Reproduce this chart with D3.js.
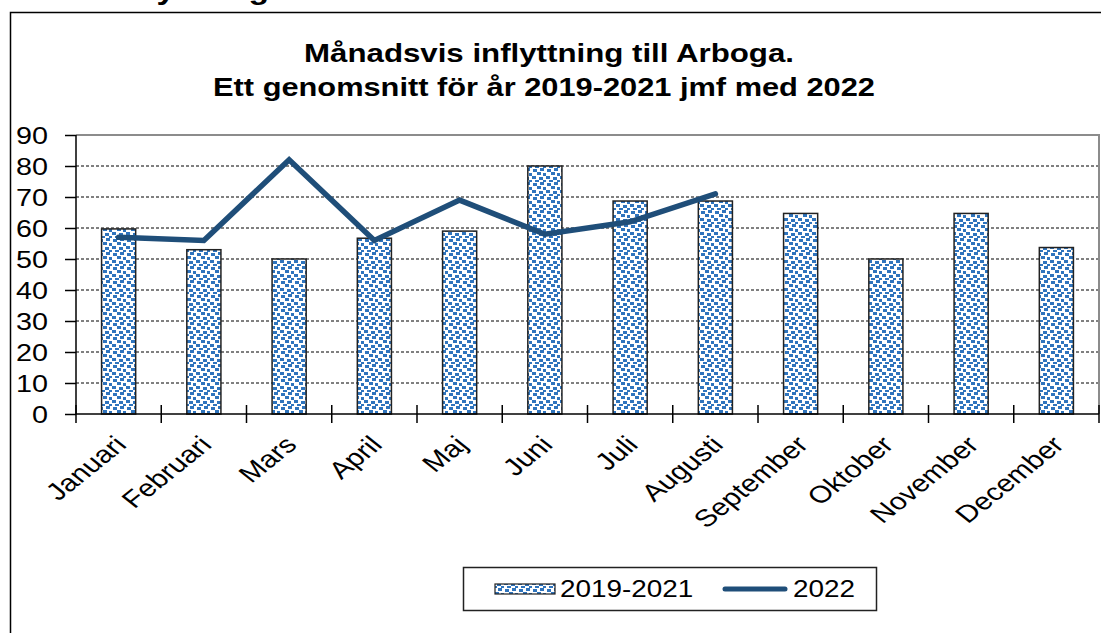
<!DOCTYPE html>
<html>
<head>
<meta charset="utf-8">
<script src="https://cdn.jsdelivr.net/npm/d3@7"></script>
<style>
  body { margin: 0; background: #fff; }
  svg { display: block; font-family: "Liberation Sans", Arial, sans-serif; }
</style>
</head>
<body>
<svg id="chart" width="1101" height="633"></svg>
<script>
const MONTHS = ["Januari", "Februari", "Mars", "April", "Maj", "Juni",
                "Juli", "Augusti", "September", "Oktober", "November", "December"];
const AVG_2019_2021 = [59.7, 53, 50, 56.7, 59, 80, 68.7, 68.7, 64.7, 50, 64.7, 53.7];
const VALUES_2022 = [57, 56, 82, 56, 69, 58, 62, 71];
const Y_TICKS = [0, 10, 20, 30, 40, 50, 60, 70, 80, 90];
const SERIES_NAMES = ["2019-2021", "2022"];
const TITLE_LINES = ["Månadsvis inflyttning till  Arboga.",
                     "Ett genomsnitt för år 2019-2021 jmf med 2022"];

const WIDTH = 1101, HEIGHT = 633;
const PLOT_LEFT = 76, PLOT_RIGHT = 1099, PLOT_TOP = 135, PLOT_BOTTOM = 414;
const STRETCH = 1.25;   // reference text is widened horizontally
const BAR_COLOUR = "#2f74bd";
const LINE_COLOUR = "#1f4e79";

const svg = d3.select("#chart");

const x = d3.scaleBand()
    .domain(MONTHS)
    .range([PLOT_LEFT, PLOT_RIGHT]);
const y = d3.scaleLinear()
    .domain([0, 90])
    .range([PLOT_BOTTOM, PLOT_TOP]);

// confetti fill for the bars
const defs = svg.append("defs");
const pat = defs.append("pattern")
    .attr("id", "confetti")
    .attr("patternUnits", "userSpaceOnUse")
    .attr("width", 14)
    .attr("height", 14);
pat.append("rect").attr("width", 14).attr("height", 14).attr("fill", "#fff");
[[1, 1], [8, 0], [5, 4], [11, 5], [0, 8], [7, 9], [3, 12], [11, 12]].forEach(p =>
    pat.append("rect")
        .attr("x", p[0]).attr("y", p[1])
        .attr("width", 4).attr("height", 3)
        .attr("fill", BAR_COLOUR)
);

// outer frame (only left and top edges visible)
svg.append("path")
    .attr("d", `M10.5,${HEIGHT} V12.5 H${WIDTH}`)
    .attr("fill", "none")
    .attr("stroke", "#000")
    .attr("stroke-width", 1.5);

// heading above the frame, cut off by the top edge as in the reference
svg.append("text")
    .attr("transform", `translate(106,-1) scale(${STRETCH},1)`)
    .attr("font-size", 27)
    .attr("font-weight", "bold")
    .text("Inflyttning");

// title
TITLE_LINES.forEach((t, i) =>
    svg.append("text")
        .attr("transform", `translate(${i === 0 ? 549 : 544},${i === 0 ? 62 : 96}) scale(${i === 0 ? STRETCH : STRETCH * 0.985},1)`)
        .attr("text-anchor", "middle")
        .attr("font-size", 25)
        .attr("font-weight", "bold")
        .text(t)
);

// gridlines
svg.append("g")
    .selectAll("line")
    .data(Y_TICKS.filter(t => t > 0 && t < 90))
    .join("line")
    .attr("x1", PLOT_LEFT)
    .attr("x2", PLOT_RIGHT)
    .attr("y1", d => y(d))
    .attr("y2", d => y(d))
    .attr("stroke", "#000")
    .attr("stroke-width", 1)
    .attr("stroke-dasharray", "3,2");

// plot area border (top and right in grey)
svg.append("path")
    .attr("d", `M${PLOT_LEFT},${PLOT_TOP} H${PLOT_RIGHT} V${PLOT_BOTTOM}`)
    .attr("fill", "none")
    .attr("stroke", "#8c8c8c")
    .attr("stroke-width", 2);

// bars
const bw = x.bandwidth() * 0.4;
svg.append("g")
    .selectAll("rect")
    .data(AVG_2019_2021)
    .join("rect")
    .attr("x", (d, i) => x(MONTHS[i]) + (x.bandwidth() - bw) / 2)
    .attr("y", d => y(d))
    .attr("width", bw)
    .attr("height", d => y(0) - y(d))
    .attr("fill", "url(#confetti)")
    .attr("stroke", "#222")
    .attr("stroke-width", 1.5);

// y axis
const yAxis = svg.append("g")
    .attr("transform", `translate(${PLOT_LEFT},0)`)
    .call(d3.axisLeft(y).tickValues(Y_TICKS).tickSize(11).tickSizeOuter(0));
yAxis.select(".domain").remove();
yAxis.selectAll(".tick line").attr("stroke", "#000").attr("stroke-width", 1.5);
yAxis.selectAll(".tick text")
    .attr("x", 0)
    .attr("dy", "0.36em")
    .attr("transform", `translate(-28,0) scale(${STRETCH},1)`)
    .attr("font-size", 23)
    .attr("font-family", "Liberation Sans, Arial, sans-serif")
    .attr("fill", "#000");

svg.append("line")
    .attr("x1", PLOT_LEFT).attr("x2", PLOT_LEFT)
    .attr("y1", PLOT_TOP).attr("y2", PLOT_BOTTOM)
    .attr("stroke", "#000").attr("stroke-width", 1.5);

// x axis line and boundary ticks
svg.append("line")
    .attr("x1", PLOT_LEFT).attr("x2", PLOT_RIGHT)
    .attr("y1", PLOT_BOTTOM).attr("y2", PLOT_BOTTOM)
    .attr("stroke", "#000").attr("stroke-width", 1.5);
const boundaries = MONTHS.map(m => x(m)).concat([x.range()[1]]);
svg.append("g")
    .selectAll("line")
    .data(boundaries)
    .join("line")
    .attr("x1", d => d).attr("x2", d => d)
    .attr("y1", PLOT_BOTTOM - 9).attr("y2", PLOT_BOTTOM + 9)
    .attr("stroke", "#000").attr("stroke-width", 1.5);

// x labels, rotated
svg.append("g")
    .selectAll("text")
    .data(MONTHS)
    .join("text")
    .attr("transform", d => `translate(${x(d) + x.bandwidth() / 2 - 6},434) scale(${STRETCH},1) rotate(-45)`)
    .attr("text-anchor", "end")
    .attr("dy", "0.72em")
    .attr("font-size", 24)
    .text(d => d);

// 2022 line
const line = d3.line()
    .x((d, i) => x(MONTHS[i]) + x.bandwidth() / 2)
    .y(d => y(d));
svg.append("path")
    .datum(VALUES_2022)
    .attr("d", line)
    .attr("fill", "none")
    .attr("stroke", LINE_COLOUR)
    .attr("stroke-width", 5.5)
    .attr("stroke-linejoin", "miter")
    .attr("stroke-linecap", "round");

// legend
const legend = svg.append("g");
legend.append("rect")
    .attr("x", 463.5).attr("y", 567.5)
    .attr("width", 413).attr("height", 43)
    .attr("fill", "#fff")
    .attr("stroke", "#222")
    .attr("stroke-width", 1.5);
legend.append("rect")
    .attr("x", 495).attr("y", 584)
    .attr("width", 60).attr("height", 10)
    .attr("fill", "url(#confetti)")
    .attr("stroke", "#222")
    .attr("stroke-width", 1.2);
legend.append("text")
    .attr("transform", `translate(560,597) scale(${STRETCH * 0.97},1)`)
    .attr("font-size", 23)
    .text(SERIES_NAMES[0]);
legend.append("line")
    .attr("x1", 725).attr("x2", 785)
    .attr("y1", 589).attr("y2", 589)
    .attr("stroke", LINE_COLOUR)
    .attr("stroke-width", 5)
    .attr("stroke-linecap", "round");
legend.append("text")
    .attr("transform", `translate(793,597) scale(${STRETCH * 0.97},1)`)
    .attr("font-size", 23)
    .text(SERIES_NAMES[1]);
</script>
</body>
</html>
